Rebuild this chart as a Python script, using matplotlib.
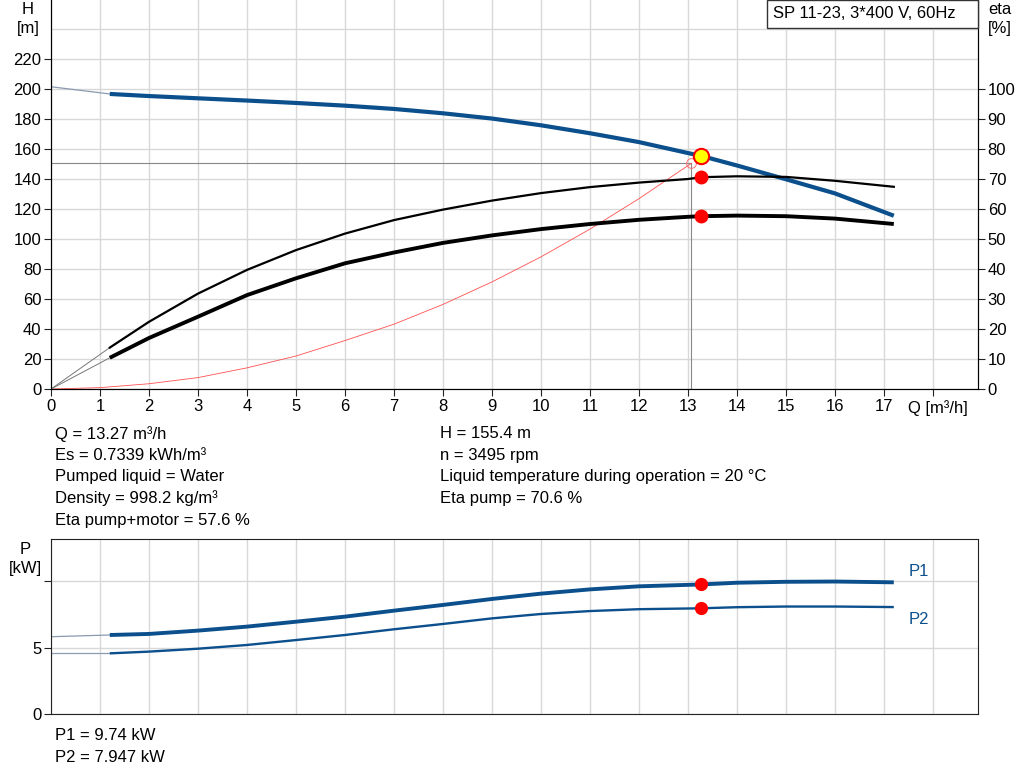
import matplotlib
matplotlib.use("Agg")
import matplotlib.pyplot as plt
from matplotlib.patches import Rectangle

plt.rcParams['font.family'] = ['Liberation Sans', 'DejaVu Sans']
plt.rcParams['font.size'] = 12

# pump curve H(Q)
q_h = [0, 1.2, 2, 3, 4, 5, 6, 7, 8, 9, 10, 11, 12, 13, 13.27, 14, 15, 16, 17.2]
h = [201.5, 196.7, 195.3, 193.8, 192.3, 190.7, 188.9, 186.7, 183.8, 180.3, 175.8,
     170.5, 164.6, 157.3, 155.4, 149.0, 139.8, 130.4, 115.5]

# efficiency curves
q_eta = [1.2, 2, 3, 4, 5, 6, 7, 8, 9, 10, 11, 12, 13, 13.27, 14, 15, 16, 17.2]
eta_pump = [13.8, 22.4, 31.8, 39.7, 46.3, 51.8, 56.3, 59.8, 62.8, 65.3, 67.3, 68.8,
            70.0, 70.6, 70.9, 70.7, 69.4, 67.4]
eta_total = [10.4, 17.0, 24.1, 31.3, 36.9, 41.9, 45.5, 48.7, 51.2, 53.3, 55.0, 56.4,
             57.4, 57.6, 57.8, 57.6, 56.8, 55.0]

# system curve
q_sys = [0, 1, 2, 3, 4, 5, 6, 7, 8, 9, 10, 11, 12, 13.07]
h_sys = [0, 0.9, 3.5, 7.6, 14.1, 22.0, 32.3, 43.2, 56.4, 71.4, 88.1, 106.6, 126.9, 150.5]

# power curves
q_p = [0, 1.2, 2, 3, 4, 5, 6, 7, 8, 9, 10, 11, 12, 13.27, 14, 15, 16, 17.2]
p1 = [5.81, 5.94, 6.02, 6.27, 6.57, 6.94, 7.32, 7.77, 8.2, 8.65, 9.05, 9.37, 9.6,
      9.74, 9.87, 9.94, 9.96, 9.9]
p2 = [4.56, 4.56, 4.69, 4.91, 5.19, 5.56, 5.94, 6.37, 6.77, 7.19, 7.52, 7.74, 7.88,
      7.947, 8.03, 8.08, 8.08, 8.04]

# duty point
q_op = 13.27
h_op = 155.4
eta_pump_op = 70.6
eta_total_op = 57.6
p1_op = 9.74
p2_op = 7.947

h_ticks = list(range(0, 221, 20))
eta_ticks = list(range(0, 101, 10))
q_ticks = list(range(0, 19))
q_labels = [str(i) for i in range(0, 18)] + ['']

info_left = ["Q = 13.27 m³/h", "Es = 0.7339 kWh/m³", "Pumped liquid = Water",
             "Density = 998.2 kg/m³", "Eta pump+motor = 57.6 %"]
info_right = ["H = 155.4 m", "n = 3495 rpm",
              "Liquid temperature during operation = 20 °C", "Eta pump = 70.6 %"]
info_power = ["P1 = 9.74 kW", "P2 = 7.947 kW"]
title = "SP 11-23, 3*400 V, 60Hz"

BLUE = '#0b4f8c'
EXT = '#8a9ab0'
GRID = '#d8d8d8'
W, H = 1024, 781
FS = 12


def px(x, y):
    """pixel position -> figure fraction"""
    return x / W, 1 - y / H


fig = plt.figure(figsize=(10.24, 7.81), dpi=100)
xmax = (978 - 51) / 49.0

# ---- top panel ----
ax = fig.add_axes([51 / W, 1 - 389 / H, (978 - 51) / W, 389 / H])
ax.set_xlim(0, xmax)
ax.set_ylim(0, 389 / 1.5)
ax.set_xticks(q_ticks)
ax.set_xticklabels(q_labels)
ax.set_yticks(h_ticks)
ax.grid(True, color=GRID, lw=1)
ax.axhline(240, color=GRID, lw=1, zorder=0)
ax.set_axisbelow(True)
ax.spines['top'].set_visible(False)
for s in ['left', 'bottom', 'right']:
    ax.spines[s].set_color('#222222')
ax.tick_params(direction='out', length=5, color='#222222', labelsize=FS, pad=2)

ax2 = ax.twinx()
ax2.set_ylim(0, 389 / 3.0)
ax2.set_yticks(eta_ticks)
ax2.spines['top'].set_visible(False)
ax2.tick_params(direction='out', length=5, color='#222222', labelsize=FS, pad=2)

# H curve with thin extension
ax.plot(q_h[:2], h[:2], color=EXT, lw=0.9)
ax.plot(q_h[1:], h[1:], color=BLUE, lw=3.0, solid_capstyle='butt')

# system curve and crosshair
ax.plot([0, q_sys[-1]], [h_sys[-1], h_sys[-1]], color='#888888', lw=0.8)
ax.plot([q_sys[-1], q_sys[-1]], [0, h_sys[-1]], color='#888888', lw=0.8)
ax.plot(q_sys, h_sys, color='#ff5050', lw=0.6)
ax.plot(q_sys[-1], h_sys[-1], 'o', mfc='none', mec='#ff7070', ms=7, mew=0.7)

# efficiency curves
ax2.plot([0, q_eta[0]], [0, eta_pump[0]], color='#777777', lw=0.7)
ax2.plot([0, q_eta[0]], [0, eta_total[0]], color='#777777', lw=0.7)
ax2.plot(q_eta, eta_pump, color='black', lw=1.6)
ax2.plot(q_eta, eta_total, color='black', lw=2.8, solid_capstyle='butt')
ax2.plot(q_op, eta_pump_op, 'o', color='#ff0000', ms=9)
ax2.plot(q_op, eta_total_op, 'o', color='#ff0000', ms=9)
ax2.plot(q_op, h_op * 0.5, 'o', mfc='#ffff00', mec='#ff0000', ms=11, mew=1.5)

fig.text(*px(28, 9), "H", ha='center', va='center')
fig.text(*px(28, 29), "[m]", ha='center', va='center')
fig.text(*px(1000, 9), "eta", ha='center', va='center')
fig.text(*px(1000, 29), "[%]", ha='center', va='center')
fig.text(*px(938, 408), "Q [m³/h]", ha='center', va='center')

# title box
fig.add_artist(Rectangle(px(767, 28), (978 - 767) / W, 28 / H, transform=fig.transFigure,
                         fill=True, facecolor='white', edgecolor='#333333', lw=1))
fig.text(*px(773, 14), title, ha='left', va='center')

# info text
for i, t in enumerate(info_left):
    fig.text(*px(55, 434 + i * 21.5), t, ha='left', va='center')
for i, t in enumerate(info_right):
    fig.text(*px(440, 434 + i * 21.5), t, ha='left', va='center')

# ---- bottom panel ----
bx = fig.add_axes([51 / W, 1 - 714 / H, (978 - 51) / W, (714 - 539) / H])
bx.set_xlim(0, xmax)
bx.set_ylim(0, 175 / 13.3)
bx.set_xticks(q_ticks)
bx.set_xticklabels([])
bx.set_yticks([0, 5, 10])
bx.set_yticklabels(['0', '5', ''])
bx.grid(True, color=GRID, lw=1)
bx.set_axisbelow(True)
for s in bx.spines.values():
    s.set_color('#222222')
bx.tick_params(axis='x', length=0)
bx.tick_params(axis='y', direction='out', length=5, color='#222222', labelsize=FS, pad=2)

bx.plot(q_p[:2], p1[:2], color=EXT, lw=0.9)
bx.plot(q_p[:2], p2[:2], color=EXT, lw=0.9)
bx.plot(q_p[1:], p1[1:], color=BLUE, lw=2.8, solid_capstyle='butt')
bx.plot(q_p[1:], p2[1:], color=BLUE, lw=1.7, solid_capstyle='butt')
bx.plot(q_op, p1_op, 'o', color='#ff0000', ms=8.5)
bx.plot(q_op, p2_op, 'o', color='#ff0000', ms=8.5)

fig.text(*px(25, 549), "P", ha='center', va='center')
fig.text(*px(25, 569), "[kW]", ha='center', va='center')
fig.text(*px(909, 571), "P1", ha='left', va='center', color=BLUE)
fig.text(*px(909, 619), "P2", ha='left', va='center', color=BLUE)

for i, t in enumerate(info_power):
    fig.text(*px(55, 736 + i * 21), t, ha='left', va='center')

fig.savefig("out.png", dpi=100)
